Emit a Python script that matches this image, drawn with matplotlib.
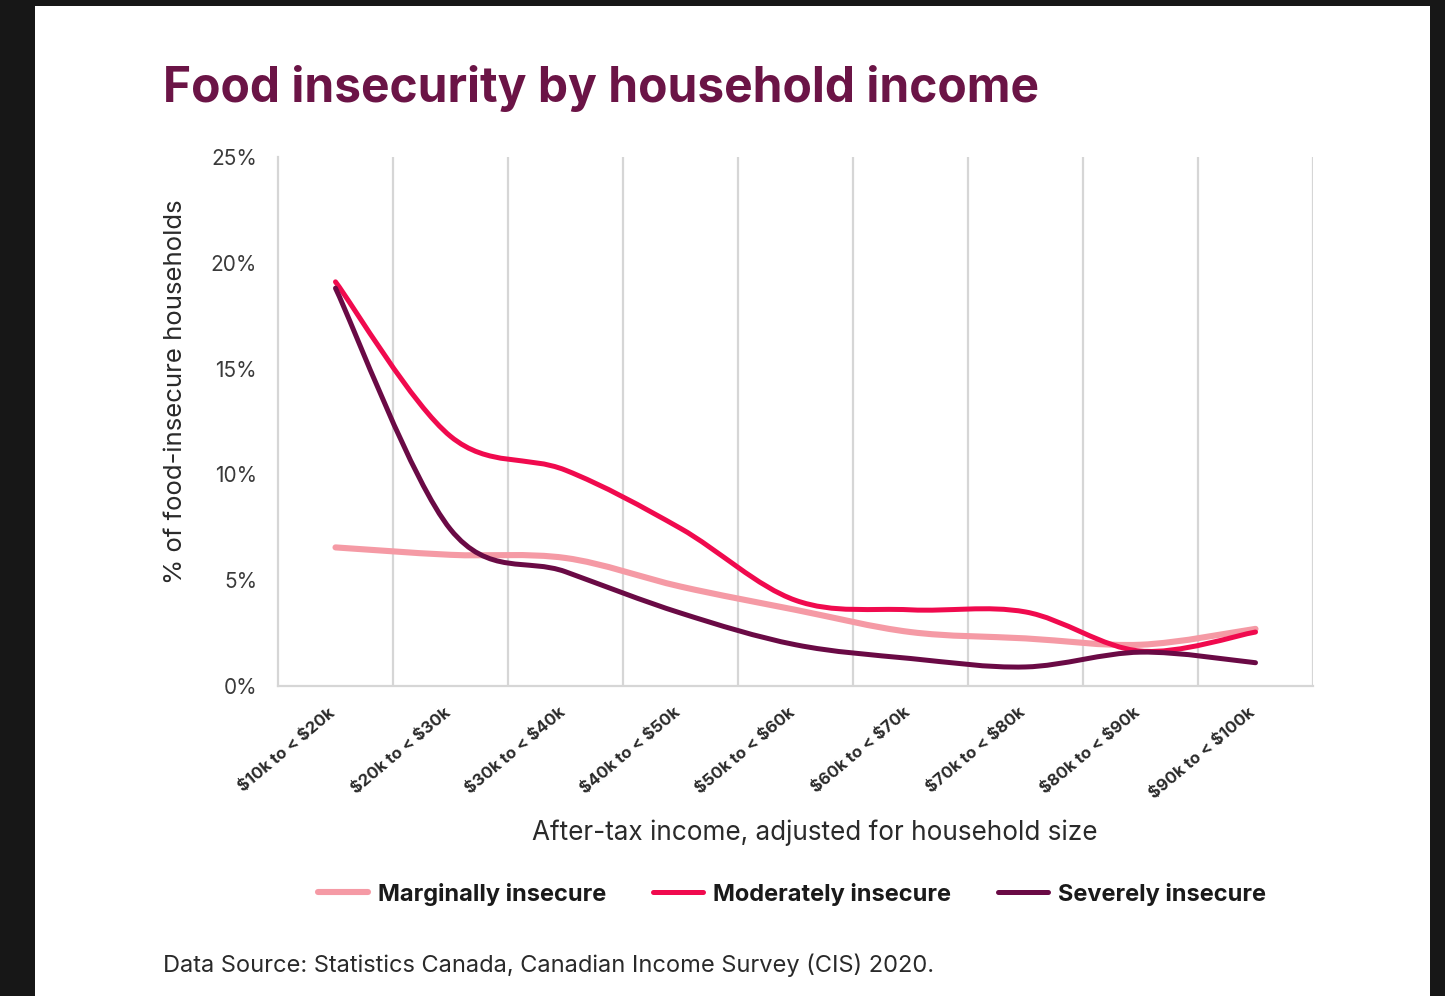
import matplotlib
matplotlib.use("Agg")
import matplotlib.pyplot as plt
from matplotlib.path import Path
from matplotlib.patches import PathPatch, Rectangle
from matplotlib.lines import Line2D
import numpy as np

categories = ["$10k to < $20k", "$20k to < $30k", "$30k to < $40k", "$40k to < $50k",
              "$50k to < $60k", "$60k to < $70k", "$70k to < $80k", "$80k to < $90k",
              "$90k to < $100k"]
marginally = [6.55, 6.2, 6.05, 4.7, 3.6, 2.55, 2.25, 1.95, 2.7]
moderately = [19.1, 11.8, 10.2, 7.45, 4.05, 3.6, 3.5, 1.65, 2.55]
severely = [18.8, 7.4, 5.4, 3.45, 1.95, 1.3, 0.9, 1.6, 1.1]
yticks = [0, 5, 10, 15, 20, 25]
ytick_labels = ["0%", "5%", "10%", "15%", "20%", "25%"]

C_MARG = "#f59aa5"
C_MOD = "#f00a4e"
C_SEV = "#6a0a45"
TITLE_C = "#6b1446"
TEXT_C = "#2a2a2a"
GRID_C = "#d6d6d6"

FONT = ["Inter", "DejaVu Sans"]
plt.rcParams["font.family"] = FONT

W, H = 1445, 996
fig = plt.figure(figsize=(W / 100, H / 100), dpi=100)
fig.patch.set_facecolor("#171717")
fig.add_artist(Rectangle((35 / W, 0), (1430 - 35) / W, (996 - 6) / H,
                         transform=fig.transFigure, facecolor="white",
                         edgecolor="none", zorder=0))

left, right, top, bottom = 278, 1313, 157, 686
ax = fig.add_axes([left / W, 1 - bottom / H, (right - left) / W, (bottom - top) / H])
ax.set_facecolor("white")
n = len(categories)
ax.set_xlim(-0.5, n - 0.5)
ax.set_ylim(0, 25)

for s in ["top", "right"]:
    ax.spines[s].set_visible(False)
for s in ["left", "bottom"]:
    ax.spines[s].set_color(GRID_C)
    ax.spines[s].set_linewidth(1.6)

for b in np.arange(0.5, n + 0.5, 1.0):
    ax.axvline(b, color=GRID_C, lw=1.6, zorder=1)


def smooth_path(xs, ys):
    xs = np.asarray(xs, float)
    ys = np.asarray(ys, float)
    pts = np.column_stack([xs, ys])
    verts = [pts[0]]
    codes = [Path.MOVETO]
    m = len(pts)
    for i in range(m - 1):
        p0 = pts[i - 1] if i > 0 else pts[i]
        p1 = pts[i]
        p2 = pts[i + 1]
        p3 = pts[i + 2] if i + 2 < m else pts[i + 1]
        c1 = p1 + (p2 - p0) / 6.0
        c2 = p2 - (p3 - p1) / 6.0
        verts += [c1, c2, p2]
        codes += [Path.CURVE4] * 3
    return Path(verts, codes)


x = np.arange(n)
for vals, col, lw, z in [(marginally, C_MARG, 4.4, 3),
                         (moderately, C_MOD, 3.6, 4),
                         (severely, C_SEV, 3.6, 5)]:
    patch = PathPatch(smooth_path(x, vals), facecolor="none", edgecolor=col,
                      lw=lw, capstyle="round", joinstyle="round", zorder=z)
    ax.add_patch(patch)

ax.set_yticks(yticks)
ax.set_yticklabels(ytick_labels, fontsize=15, color="#3a3a3a")
ax.tick_params(axis="y", length=0, pad=15)
ax.set_xticks(x)
ax.set_xticklabels([])
ax.tick_params(axis="x", length=0)
for i, cat in enumerate(categories):
    ax.annotate(cat, xy=(i, 0), xycoords=("data", "axes fraction"),
                xytext=(-7, -19), textcoords="offset pixels",
                rotation=40, ha="right", va="top", rotation_mode="anchor",
                fontsize=12, fontweight="bold", color=TEXT_C,
                annotation_clip=False).set_parse_math(False)

fig.text(176 / W, 1 - 392 / H, "% of food-insecure households", rotation=90,
         ha="center", va="center", fontsize=18.5, color=TEXT_C)
fig.text(815 / W, 1 - 833 / H, "After-tax income, adjusted for household size",
         ha="center", va="center", fontsize=18.8, color=TEXT_C)
fig.text(163 / W, 1 - 88 / H, "Food insecurity by household income",
         ha="left", va="center", fontsize=34.5, fontweight="bold", color=TITLE_C)
fig.text(163 / W, 1 - 965 / H,
         "Data Source: Statistics Canada, Canadian Income Survey (CIS) 2020.",
         ha="left", va="center", fontsize=17, color=TEXT_C)

handles = [Line2D([], [], color=C_MARG, lw=4.4, solid_capstyle="round"),
           Line2D([], [], color=C_MOD, lw=3.6, solid_capstyle="round"),
           Line2D([], [], color=C_SEV, lw=3.6, solid_capstyle="round")]
labels = ["Marginally insecure", "Moderately insecure", "Severely insecure"]
leg = fig.legend(handles, labels, loc="center", bbox_to_anchor=(792 / W, 1 - 894 / H),
                 ncol=3, frameon=False, handlelength=2.1, handletextpad=0.42,
                 columnspacing=2.0, prop={"family": FONT, "weight": "bold", "size": 17})
for t in leg.get_texts():
    t.set_color("#1a1a1a")

fig.savefig("out.png", dpi=100, facecolor=fig.get_facecolor())
